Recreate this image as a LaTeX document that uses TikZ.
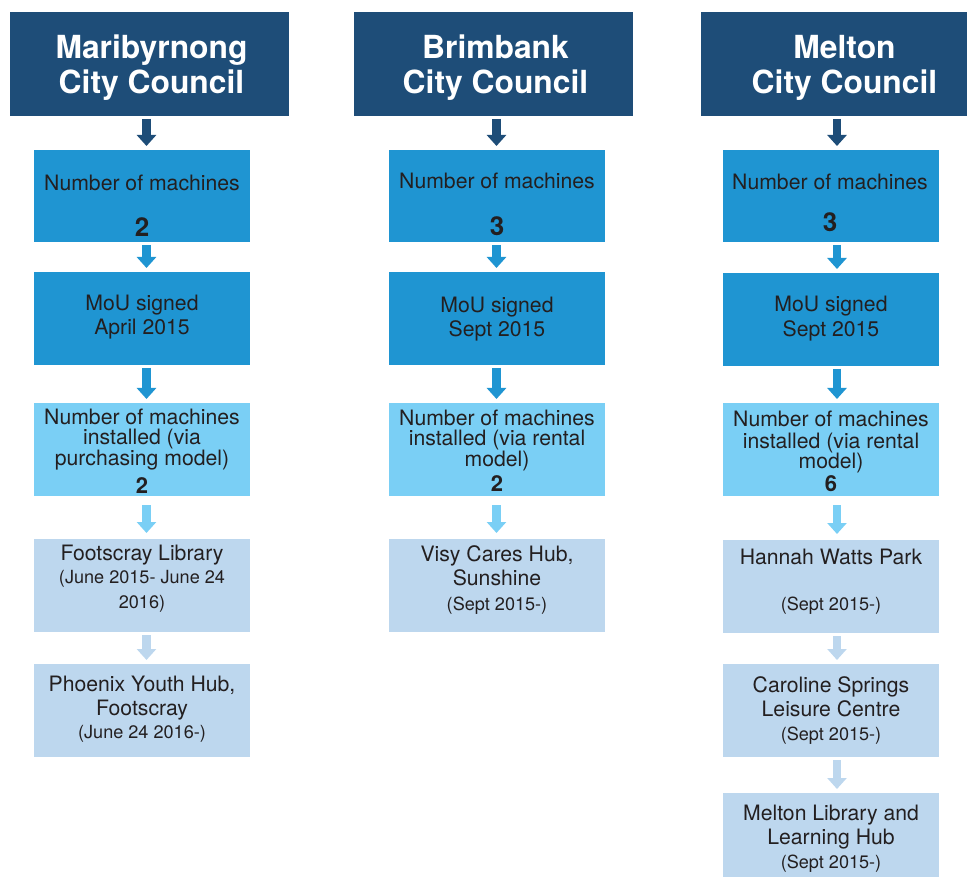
\documentclass[tikz,border=0pt]{standalone}
\usepackage{fontspec}
\setmainfont{TeX Gyre Heros}
\usetikzlibrary{arrows.meta}
\definecolor{hdrblue}{HTML}{1E4D78}
\definecolor{midblue}{HTML}{1F95D2}
\definecolor{cyanblue}{HTML}{7ACFF5}
\definecolor{paleblue}{HTML}{BDD7EE}
\definecolor{txtc}{HTML}{231F20}
\newcommand\mkbox[6]{\node[boxshape,#1,minimum width={(#5)-(#3)},minimum height={(#6)-(#4)}] (#2) at ({((#3)+(#5))/2},{((#4)+(#6))/2}) {};}
\begin{document}
\begin{tikzpicture}[x=1pt,y=-1pt,
  boxshape/.style={rectangle,inner sep=0pt,outer sep=0pt,draw=none},
  hdr/.style={fill=hdrblue},
  midbox/.style={fill=midblue},
  cyanbox/.style={fill=cyanblue},
  palebox/.style={fill=paleblue},
  htext/.style={anchor=base,inner sep=0pt,yshift=-1.5pt,text=white,font=\fontsize{31.8}{36}\selectfont\bfseries},
  ln/.style={anchor=base,inner sep=0pt,yshift=-1.2pt,text=txtc,font=\fontsize{21.2}{25}\selectfont},
  sm/.style={anchor=base,inner sep=0pt,yshift=-1pt,text=txtc,font=\fontsize{18.1}{22}\selectfont},
  bignum/.style={anchor=base,inner sep=0pt,text=txtc,font=\fontsize{26}{30}\selectfont\bfseries},
  num/.style={anchor=base,inner sep=0pt,text=txtc,font=\fontsize{22}{26}\selectfont\bfseries},
  arr/.style={draw=#1,line width=8.5pt,-{Triangle[width=19pt,length=11pt]},shorten <=3pt,shorten >=4pt}
]
\useasboundingbox (0,0) rectangle (967,877);
% arrow columns
\coordinate (c1) at (146.5,0);
\coordinate (c2) at (496.5,0);
\coordinate (c3) at (837,0);
% ---------------- Column 1 ----------------
\mkbox{hdr}{h1}{10}{12}{289}{116}
\mkbox{midbox}{n1}{34}{150}{250}{242}
\mkbox{midbox}{m1}{34}{272}{250}{365}
\mkbox{cyanbox}{i1}{34}{403}{250}{496}
\mkbox{palebox}{la1}{34}{539}{250}{632}
\mkbox{palebox}{lb1}{34}{664}{250}{757}
\node[htext] (h1t1) at (151.5,57) {Maribyrnong};
\node[htext] (h1t2) at (151.5,92) {City Council};
\node[ln] (n1t1) at (142,189) {Number of machines};
\node[bignum] (n1t2) at (142,237) {2};
\node[ln] (m1t1) at (142,309) {MoU signed};
\node[ln] (m1t2) at (142,333) {April 2015};
\node[ln] (i1t1) at (142,423) {Number of machines};
\node[ln] (i1t2) at (142,443) {installed (via};
\node[ln] (i1t3) at (142,464) {purchasing model)};
\node[num] (i1t4) at (142,493) {2};
\node[ln] (la1t1) at (142,559) {Footscray Library};
\node[sm] (la1t2) at (142,582) {(June 2015- June 24};
\node[sm] (la1t3) at (142,607) {2016)};
\node[ln] (lb1t1) at (142,690) {Phoenix Youth Hub,};
\node[ln] (lb1t2) at (142,714) {Footscray};
\node[sm] (lb1t3) at (142,737) {(June 24 2016-)};
\draw[arr=hdrblue] (h1.south -| c1) -- (n1.north -| c1);
\draw[arr=midblue] (n1.south -| c1) -- (m1.north -| c1);
\draw[arr=midblue] (m1.south -| c1) -- (i1.north -| c1);
\draw[arr=cyanblue,shorten <=9pt,shorten >=6pt] (i1.south -| c1) -- (la1.north -| c1);
\draw[arr=paleblue] (la1.south -| c1) -- (lb1.north -| c1);
% ---------------- Column 2 ----------------
\mkbox{hdr}{h2}{354}{12}{633}{116}
\mkbox{midbox}{n2}{389}{150}{605}{242}
\mkbox{midbox}{m2}{389}{272}{605}{365}
\mkbox{cyanbox}{i2}{389}{403}{605}{496}
\mkbox{palebox}{la2}{389}{539}{605}{632}
\node[htext] (h2t1) at (495.5,57) {Brimbank};
\node[htext] (h2t2) at (495.5,92) {City Council};
\node[ln] (n2t1) at (497,187) {Number of machines};
\node[bignum] (n2t2) at (497,236) {3};
\node[ln] (m2t1) at (497,311) {MoU signed};
\node[ln] (m2t2) at (497,335) {Sept 2015};
\node[ln] (i2t1) at (497,424) {Number of machines};
\node[ln] (i2t2) at (497,444) {installed (via rental};
\node[ln] (i2t3) at (497,465) {model)};
\node[num] (i2t4) at (497,491) {2};
\node[ln] (la2t1) at (497,560) {Visy Cares Hub,};
\node[ln] (la2t2) at (497,584) {Sunshine};
\node[sm] (la2t3) at (497,609) {(Sept 2015-)};
\draw[arr=hdrblue] (h2.south -| c2) -- (n2.north -| c2);
\draw[arr=midblue] (n2.south -| c2) -- (m2.north -| c2);
\draw[arr=midblue] (m2.south -| c2) -- (i2.north -| c2);
\draw[arr=cyanblue,shorten <=9pt,shorten >=6pt] (i2.south -| c2) -- (la2.north -| c2);
% ---------------- Column 3 ----------------
\mkbox{hdr}{h3}{701}{12}{967}{116}
\mkbox{midbox}{n3}{723}{150}{939}{242}
\mkbox{midbox}{m3}{723}{273}{939}{366}
\mkbox{cyanbox}{i3}{723}{403}{939}{496}
\mkbox{palebox}{la3}{723}{540}{939}{633}
\mkbox{palebox}{lb3}{723}{664}{939}{757}
\mkbox{palebox}{lc3}{723}{793}{939}{877}
\node[htext] (h3t1) at (844.5,57) {Melton};
\node[htext] (h3t2) at (844.5,92) {City Council};
\node[ln] (n3t1) at (830,188) {Number of machines};
\node[bignum] (n3t2) at (830,232) {3};
\node[ln] (m3t1) at (831,310) {MoU signed};
\node[ln] (m3t2) at (831,335) {Sept 2015};
\node[ln] (i3t1) at (831,425) {Number of machines};
\node[ln] (i3t2) at (831,447) {installed (via rental};
\node[ln] (i3t3) at (831,467) {model)};
\node[num] (i3t4) at (831,491) {6};
\node[ln] (la3t1) at (831,563) {Hannah Watts Park};
\node[sm] (la3t2) at (831,609) {(Sept 2015-)};
\node[ln] (lb3t1) at (831,691) {Caroline Springs};
\node[ln] (lb3t2) at (831,715) {Leisure Centre};
\node[sm] (lb3t3) at (831,739) {(Sept 2015-)};
\node[ln] (lc3t1) at (831,819) {Melton Library and};
\node[ln] (lc3t2) at (831,843) {Learning Hub};
\node[sm] (lc3t3) at (831,867) {(Sept 2015-)};
\draw[arr=hdrblue] (h3.south -| c3) -- (n3.north -| c3);
\draw[arr=midblue] (n3.south -| c3) -- (m3.north -| c3);
\draw[arr=midblue] (m3.south -| c3) -- (i3.north -| c3);
\draw[arr=cyanblue,shorten <=9pt,shorten >=6pt] (i3.south -| c3) -- (la3.north -| c3);
\draw[arr=paleblue] (la3.south -| c3) -- (lb3.north -| c3);
\draw[arr=paleblue] (lb3.south -| c3) -- (lc3.north -| c3);
\end{tikzpicture}
\end{document}
